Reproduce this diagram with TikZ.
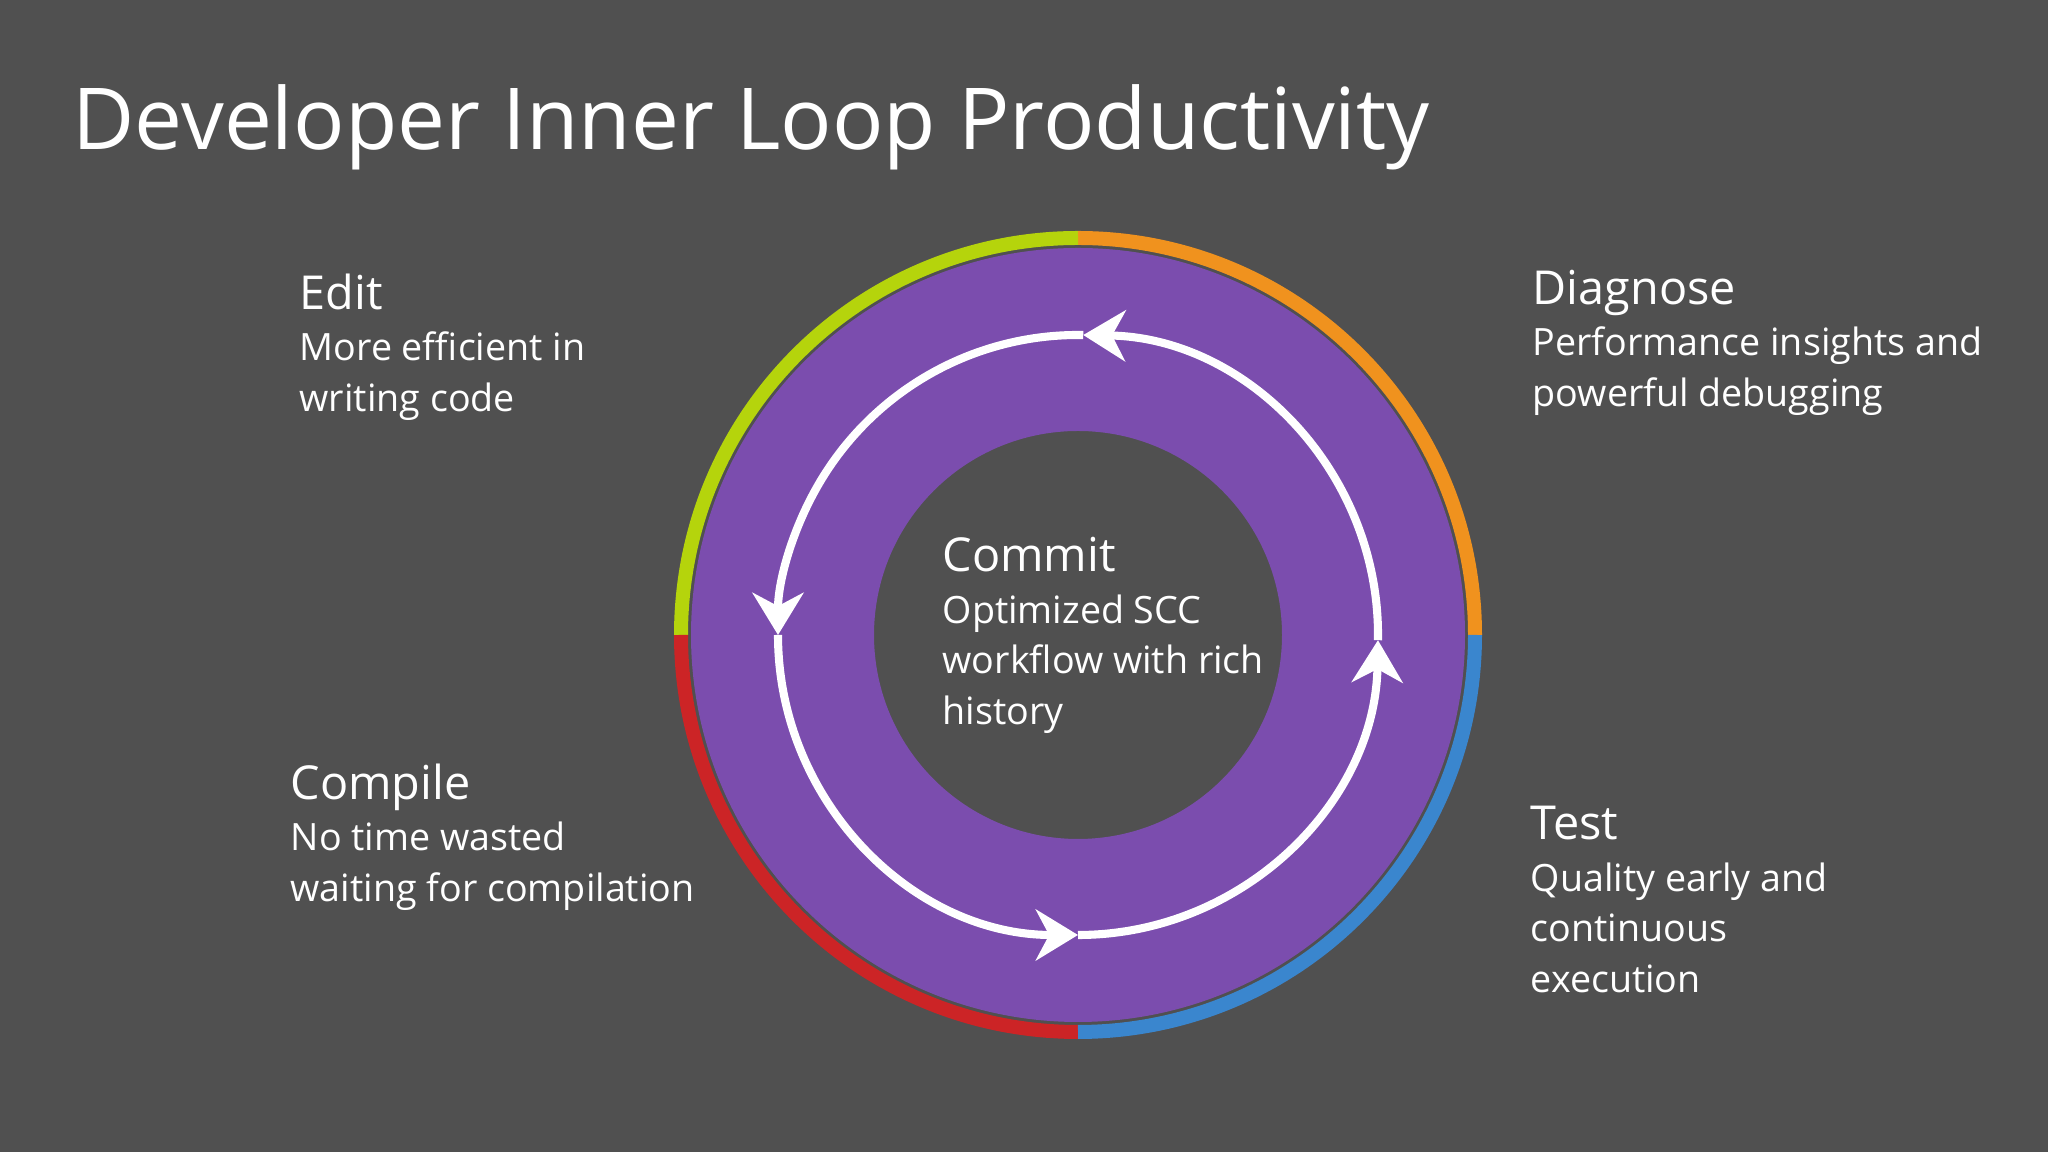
\documentclass[tikz,border=0pt]{standalone}
\usepackage{fontspec}
\setmainfont{Open Sans}
\usepackage{tikz}
\usetikzlibrary{arrows.meta,calc}
\definecolor{slidebg}{RGB}{80,80,80}
\definecolor{loopcol}{RGB}{123,77,174}
\definecolor{editcol}{RGB}{181,212,12}
\definecolor{diagcol}{RGB}{240,146,30}
\definecolor{compcol}{RGB}{204,36,38}
\definecolor{testcol}{RGB}{58,134,206}

\begin{document}
\begin{tikzpicture}[
  x=0.01cm, y=0.01cm,
  title/.style={font=\fontsize{24.3}{30}\selectfont, text=white, anchor=base west, inner sep=0pt},
  head/.style={font=\fontsize{13.3}{17}\selectfont, text=white, anchor=base west, inner sep=0pt},
  desc/.style={font=\fontsize{10.7}{14.5}\selectfont, text=white, anchor=base west,
               align=left, inner sep=0pt},
  seg/.style={line width=3.98pt},
  flow/.style={-{Stealth[length=12pt, width=14.5pt, inset=3.8pt]}, line width=2.3pt, draw=white},
  ]
  \useasboundingbox (0,0) rectangle (2048,1152);
  \fill[slidebg] (0,0) rectangle (2048,1152);
  \coordinate (hub) at (1078,517);
  % ring
  \fill[loopcol, even odd rule] (hub) circle[radius=387] (hub) circle[radius=204];
  \foreach \a/\col in {0/diagcol, 90/editcol, 180/compcol, 270/testcol}
    \draw[seg, draw=\col] ([shift={(\a:397)}]hub) arc[start angle=\a, end angle=\a+90, radius=397];
  % inner loop
  \foreach \s/\e in {-1/89, 89/180, 180/270, 270/359}
    \draw[flow] ([shift={(\s:300)}]hub) arc[start angle=\s, end angle=\e, radius=300];
  % texts (desc anchors sit on the last line)
  \node[title] (ttl) at (72,1002) {Developer Inner Loop Productivity};
  \node[head] (edit) at (299,842) {Edit};
  \node[desc] (editd) at ($(edit.base west)+(0,-102)$) {More efficient in\\writing code};
  \node[head] (diag) at (1532,847) {Diagnose};
  \node[desc] (diagd) at ($(diag.base west)+(0,-102)$) {Performance insights and\\powerful debugging};
  \node[head] (comp) at (290,352) {Compile};
  \node[desc] (compd) at ($(comp.base west)+(0,-102)$) {No time wasted\\waiting for compilation};
  \node[head] (test) at (1530,312) {Test};
  \node[desc] (testd) at ($(test.base west)+(0,-153)$) {Quality early and\\continuous\\execution};
  \node[head] (commit) at (942,580) {Commit};
  \node[desc] (commitd) at ($(commit.base west)+(0,-153)$) {Optimized SCC\\workflow with rich\\history};
\end{tikzpicture}
\end{document}
